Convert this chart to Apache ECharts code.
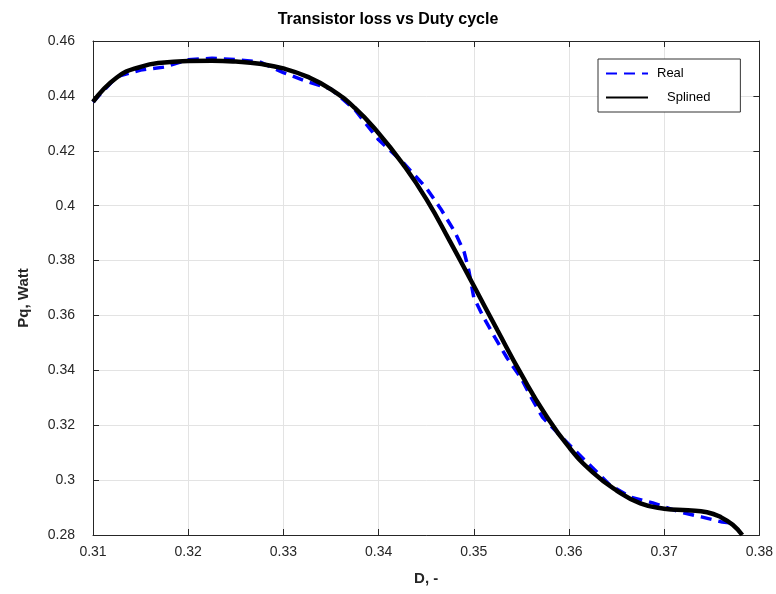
<!DOCTYPE html>
<html>
<head>
<meta charset="utf-8">
<title>Transistor loss vs Duty cycle</title>
<script src="https://cdn.jsdelivr.net/npm/echarts@6/dist/echarts.min.js"></script>
<style>
  html, body { margin: 0; padding: 0; background: #fff; }
  #chart { width: 776px; height: 594px; }
</style>
</head>
<body>
<div id="chart"></div>
<script>
// measured data (duty cycle D, transistor loss Pq)
var realD = [0.310, 0.3125, 0.315, 0.3175, 0.320, 0.3225, 0.325, 0.3275, 0.330, 0.3325,
  0.335, 0.3375, 0.340, 0.3425, 0.345, 0.3465, 0.348, 0.349, 0.3495, 0.350,
  0.351, 0.3522, 0.3535, 0.355, 0.356, 0.3572, 0.3588, 0.3608, 0.3625, 0.3643,
  0.3665, 0.3688, 0.3716, 0.3739, 0.3761, 0.3775];
var realPq = [0.4378, 0.4470, 0.4494, 0.4505, 0.4532, 0.4537, 0.4532, 0.4524, 0.4485, 0.4452,
  0.4425, 0.4350, 0.4240, 0.4160, 0.4065, 0.3990, 0.3905, 0.3830, 0.3760, 0.3665,
  0.3595, 0.3521, 0.3445, 0.3370, 0.3303, 0.3230, 0.3172, 0.3102, 0.3044, 0.2982,
  0.2938, 0.2917, 0.2884, 0.2866, 0.2847, 0.2842];

// spline fit
var splineD = [0.3100, 0.3125, 0.3150, 0.3175, 0.3200, 0.3225, 0.3250, 0.3275, 0.3300, 0.3325,
  0.3350, 0.3375, 0.3400, 0.3425, 0.3450, 0.3475, 0.3500, 0.3525, 0.3550, 0.3575,
  0.3600, 0.3625, 0.3650, 0.3675, 0.3700, 0.3725, 0.3745, 0.3760, 0.3772, 0.3782];
var splinePq = [0.4378, 0.4467, 0.4506, 0.4522, 0.4527, 0.4528, 0.4525, 0.4517, 0.4500, 0.4470,
  0.4424, 0.4356, 0.4264, 0.4154, 0.4025, 0.3870, 0.3708, 0.3545, 0.3385, 0.3240,
  0.3120, 0.3028, 0.2962, 0.2915, 0.2896, 0.2890, 0.2883, 0.2864, 0.2837, 0.2800];

var xTicks = { min: 0.31, max: 0.38, step: 0.01 };
var yTicks = { min: 0.28, max: 0.46, step: 0.02 };

function pairs(xs, ys) {
  var out = [];
  for (var i = 0; i < xs.length; i++) out.push([xs[i], ys[i]]);
  return out;
}

var font = "'Liberation Sans', Arial, Helvetica, sans-serif";
var ink = '#262626';
var fmt = function (v) { return String(parseFloat(v.toFixed(3))); };

var baseAxis = {
  type: 'value',
  axisLine: { show: true, onZero: false, lineStyle: { color: ink, width: 1 } },
  axisTick: { show: true, inside: true, length: 6, lineStyle: { color: ink } },
  axisLabel: { color: ink, fontFamily: font, fontSize: 14, formatter: fmt },
  splitLine: { show: true, lineStyle: { color: '#e3e3e3', width: 1 } }
};

function axis(extra) {
  return echarts.util.merge(echarts.util.clone(baseAxis), extra, true);
}

var chart = echarts.init(document.getElementById('chart'), null, { renderer: 'canvas' });

chart.setOption({
  backgroundColor: '#fff',
  animation: false,
  title: {
    text: 'Transistor loss vs Duty cycle',
    left: 'center',
    top: 7,
    textStyle: { fontFamily: font, fontSize: 16, fontWeight: 'bold', color: '#000' }
  },
  grid: { left: 93, right: 16, top: 41, bottom: 59, containLabel: false },
  legend: {
    orient: 'vertical',
    left: 598,
    top: 59,
    padding: [8, 30, 8, 7],
    itemGap: 11,
    itemWidth: 42,
    itemHeight: 14,
    backgroundColor: '#fff',
    borderColor: '#333',
    borderWidth: 1,
    borderRadius: 0,
    itemStyle: { opacity: 0 },
    textStyle: { fontFamily: font, fontSize: 13, color: '#000' },
    data: [
      { name: 'Real', textStyle: { padding: [0, 0, 0, 4] } },
      { name: 'Splined', textStyle: { padding: [0, 0, 0, 14] } }
    ]
  },
  xAxis: [
    axis({
      min: xTicks.min, max: xTicks.max, interval: xTicks.step,
      position: 'bottom',
      name: 'D, -', nameLocation: 'middle', nameGap: 36,
      nameTextStyle: { fontFamily: font, fontSize: 15, fontWeight: 'bold', color: ink },
      axisLabel: { margin: 10 }
    }),
    axis({
      min: xTicks.min, max: xTicks.max, interval: xTicks.step,
      position: 'top',
      axisLabel: { show: false },
      splitLine: { show: false }
    })
  ],
  yAxis: [
    axis({
      min: yTicks.min, max: yTicks.max, interval: yTicks.step,
      position: 'left',
      name: 'Pq, Watt', nameLocation: 'middle', nameGap: 62,
      nameTextStyle: { fontFamily: font, fontSize: 15, fontWeight: 'bold', color: ink, padding: [0, 20, 0, 0] },
      axisLabel: { margin: 18 }
    }),
    axis({
      min: yTicks.min, max: yTicks.max, interval: yTicks.step,
      position: 'right',
      axisLabel: { show: false },
      splitLine: { show: false }
    })
  ],
  series: [
    {
      name: 'Real',
      type: 'line',
      xAxisIndex: 0, yAxisIndex: 0,
      data: pairs(realD, realPq),
      symbol: 'none',
      lineStyle: { color: '#0000ff', width: 3.5, type: [11, 7] },
      itemStyle: { color: '#0000ff' },
      z: 2
    },
    {
      name: 'Splined',
      type: 'line',
      xAxisIndex: 0, yAxisIndex: 0,
      data: pairs(splineD, splinePq),
      symbol: 'none',
      smooth: 0.5,
      lineStyle: { color: '#000', width: 4.5 },
      itemStyle: { color: '#000' },
      z: 3
    }
  ]
});
</script>
</body>
</html>
